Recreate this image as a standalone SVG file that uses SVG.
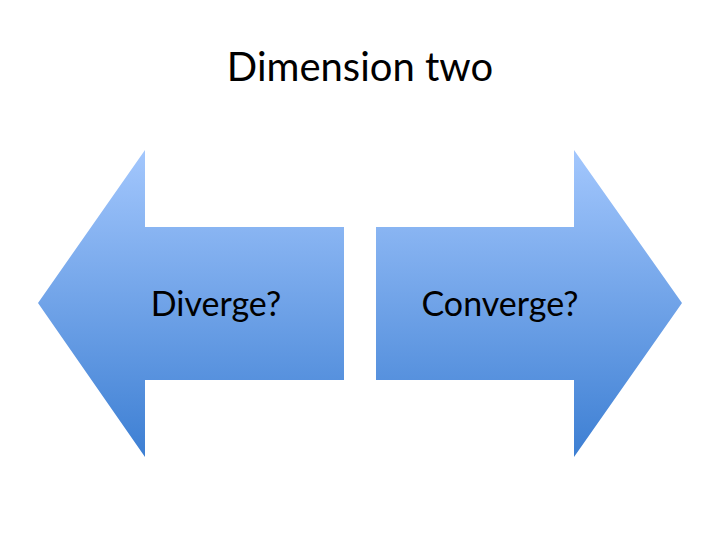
<svg xmlns="http://www.w3.org/2000/svg" width="720" height="540" viewBox="0 0 720 540">
<defs>
<linearGradient id="g" x1="0" y1="150" x2="0" y2="457" gradientUnits="userSpaceOnUse">
<stop offset="0" stop-color="#a3c7fd"/>
<stop offset="1" stop-color="#3d7fd3"/>
</linearGradient>
<style>text{font-family:Lato,"Open Sans","Liberation Sans",sans-serif;fill:#000}</style>
</defs>
<rect width="720" height="540" fill="#fff"/>
<text x="360" y="81" font-size="40" text-anchor="middle">Dimension two</text>
<g id="diverge">
<polygon points="38,303 145,150 145,227 344,227 344,380 145,380 145,457" fill="url(#g)"/>
<text x="216" y="316" font-size="34" text-anchor="middle">Diverge?</text>
</g>
<g id="converge">
<polygon points="682,303 574,150 574,227 376,227 376,380 574,380 574,457" fill="url(#g)"/>
<text x="500" y="316" font-size="34" text-anchor="middle">Converge?</text>
</g>
<g id="connectors"/>
</svg>
